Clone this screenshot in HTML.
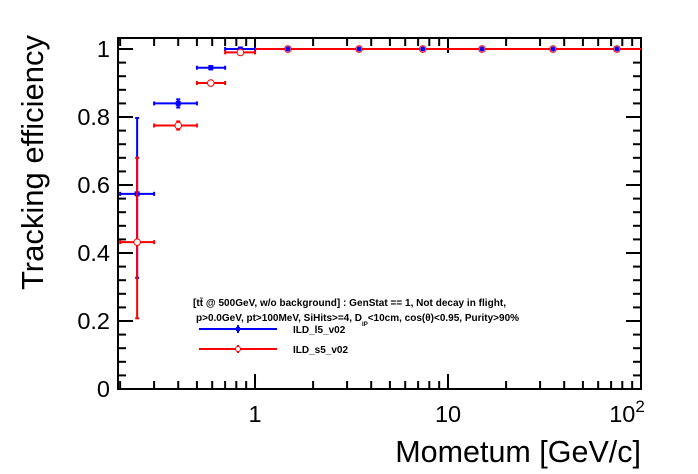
<!DOCTYPE html>
<html><head><meta charset="utf-8"><style>
body{margin:0;background:#fff;}
svg{display:block;font-family:"Liberation Sans",sans-serif;}
</style></head><body>
<svg id="chart" width="698" height="474">
<rect x="0" y="0" width="698" height="474" fill="#fff"/>
<g id="axes"></g>
<g id="series"></g>
<g id="legend">
<text x="193" y="306" font-size="10" font-weight="bold" textLength="313">[tt̄ @ 500GeV, w/o background] : GenStat == 1, Not decay in flight,</text>
<text x="196" y="321" font-size="10" font-weight="bold">p&gt;0.0GeV, pt&gt;100MeV, SiHits&gt;=4, D<tspan font-size="6" dy="5">IP</tspan><tspan dy="-5">&lt;10cm, cos(θ)&lt;0.95, Purity&gt;90%</tspan></text>
<g>
<line x1="199" y1="329" x2="277" y2="329" stroke="#0000ff" stroke-width="2"/>
<line x1="238" y1="325" x2="238" y2="333" stroke="#0000ff" stroke-width="2"/>
<rect x="236" y="327" width="4" height="4" fill="#0000ff"/>
<text x="293" y="333" font-size="10" font-weight="bold">ILD_l5_v02</text>
</g>
<g>
<line x1="199" y1="349" x2="277" y2="349" stroke="#ff0000" stroke-width="2"/>
<line x1="238" y1="345" x2="238" y2="353" stroke="#ff0000" stroke-width="2"/>
<circle cx="238" cy="349" r="2.5" fill="#fff" stroke="#ff0000" stroke-width="1"/>
<text x="293" y="353" font-size="10" font-weight="bold">ILD_s5_v02</text>
</g>
</g>
</svg>
<script>
const binLo=[0.2,0.3,0.5,0.7,1,2,5,10,20,50];
const binHi=[0.3,0.5,0.7,1,2,5,10,20,50,100];
const binCenter=[0.245,0.40,0.59,0.84,1.48,3.46,7.4,15,35,75];
const effL5=[0.574,0.84,0.945,1.0,1.0,1.0,1.0,1.0,1.0,1.0];
const errL5Up=[0.223,0.012,0.005,0.003,0,0,0,0,0,0.004];
const errL5Dn=[0.247,0.012,0.005,0.003,0,0,0,0,0,0.004];
const effS5=[0.432,0.775,0.90,0.99,1.0,1.0,1.0,1.0,1.0,1.0];
const errS5Up=[0.248,0.012,0.006,0.004,0,0,0,0,0,0.004];
const errS5Dn=[0.224,0.012,0.006,0.004,0,0,0,0,0,0.004];
const yTicks=[0,0.2,0.4,0.6,0.8,1];
const yTickLabels=["0","0.2","0.4","0.6","0.8","1"];

const L=118,R=641,T=38,B=389;
const xmin=0.195,xmax=100,ymin=0,ymax=1.0324;
const NS="http://www.w3.org/2000/svg";
function X(v){return L+(Math.log10(v)-Math.log10(xmin))/(Math.log10(xmax)-Math.log10(xmin))*(R-L);}
function Y(v){return B-(v-ymin)/(ymax-ymin)*(B-T);}
function mk(parent,tag,attrs){const e=document.createElementNS(NS,tag);for(const k in attrs)e.setAttribute(k,attrs[k]);parent.appendChild(e);return e;}
const ax=document.getElementById('axes');
const frame=mk(ax,'rect',{x:L,y:T,width:R-L,height:B-T,fill:'none',stroke:'#000','stroke-width':2});


for(let v=0;v<=1.0001;v+=0.04){
  const major=Math.abs(v*5-Math.round(v*5))<1e-6;
  const len=major?15:8;const y=Y(v);
  mk(ax,'line',{x1:L,y1:y,x2:L+len,y2:y,stroke:'#000','stroke-width':2});
  mk(ax,'line',{x1:R,y1:y,x2:R-len,y2:y,stroke:'#000','stroke-width':2});
}
yTicks.forEach((v,i)=>{
  const t=mk(ax,'text',{x:L-8,y:Y(v)+8,'font-size':23.5,'text-anchor':'end'});
  t.textContent=yTickLabels[i];
  
  
});
for(let d=-1;d<=1;d++){for(let m=1;m<=9;m++){
  const v=m*Math.pow(10,d);if(v<xmin||v>xmax)continue;
  const major=(m===1);const len=major?15:8;const x=X(v);
  mk(ax,'line',{x1:x,y1:B,x2:x,y2:B-len,stroke:'#000','stroke-width':2});
  mk(ax,'line',{x1:x,y1:T,x2:x,y2:T+len,stroke:'#000','stroke-width':2});
}}
[[1,"1"],[10,"10"]].forEach(([v,s])=>{
  const t=mk(ax,'text',{x:X(v),y:422,'font-size':23.5,'text-anchor':'middle'});t.textContent=s;
  
  
});
const t100=mk(ax,'text',{x:X(100)-14,y:422,'font-size':23.5,'text-anchor':'middle'});
t100.innerHTML='10<tspan font-size="17" dy="-10">2</tspan>';


const xt=mk(ax,'text',{x:641,y:462,'font-size':30.5,'text-anchor':'end'});xt.textContent='Mometum [GeV/c]';


const yt=mk(ax,'text',{x:0,y:0,'font-size':31,'text-anchor':'end',transform:'translate(43,35) rotate(-90)'});yt.textContent='Tracking efficiency';



const sg=document.getElementById('series');
function drawSeries(eff,up,dn,color,filled,name){
  const g=mk(sg,'g',{});
  
  
  eff.forEach((v,i)=>{
    const x=X(binCenter[i]),y=Y(v);
    mk(g,'line',{x1:X(binLo[i]),y1:y,x2:X(binHi[i]),y2:y,stroke:color,'stroke-width':2});
    if(up[i]>0||dn[i]>0){
      mk(g,'line',{x1:x,y1:Y(v+up[i]),x2:x,y2:Y(v-dn[i]),stroke:color,'stroke-width':2});
      mk(g,'line',{x1:x-2,y1:Y(v+up[i]),x2:x+2,y2:Y(v+up[i]),stroke:color,'stroke-width':2});
      mk(g,'line',{x1:x-2,y1:Y(v-dn[i]),x2:x+2,y2:Y(v-dn[i]),stroke:color,'stroke-width':2});
    }
    if(binLo[i]<1){
      [binLo[i],binHi[i]].forEach(e=>mk(g,'line',{x1:X(e),y1:y-2,x2:X(e),y2:y+2,stroke:color,'stroke-width':2}));
    }
    let m;
    if(filled){m=mk(g,'rect',{x:x-2.5,y:y-2.5,width:5,height:5,fill:color});}
    else{m=mk(g,'circle',{cx:x,cy:y,r:3.3,fill:'#fff',stroke:color,'stroke-width':1});}
    
    
  });
}
drawSeries(effL5,errL5Up,errL5Dn,'#0000ff',true,'series-ild-l5');
drawSeries(effS5,errS5Up,errS5Dn,'#ff0000',false,'series-ild-s5');
effL5.forEach((v,i)=>{if(binLo[i]>=1){const c=mk(sg,'circle',{cx:X(binCenter[i]),cy:Y(v),r:2.5,fill:'#0000ff'});

}});
</script>
</body></html>
